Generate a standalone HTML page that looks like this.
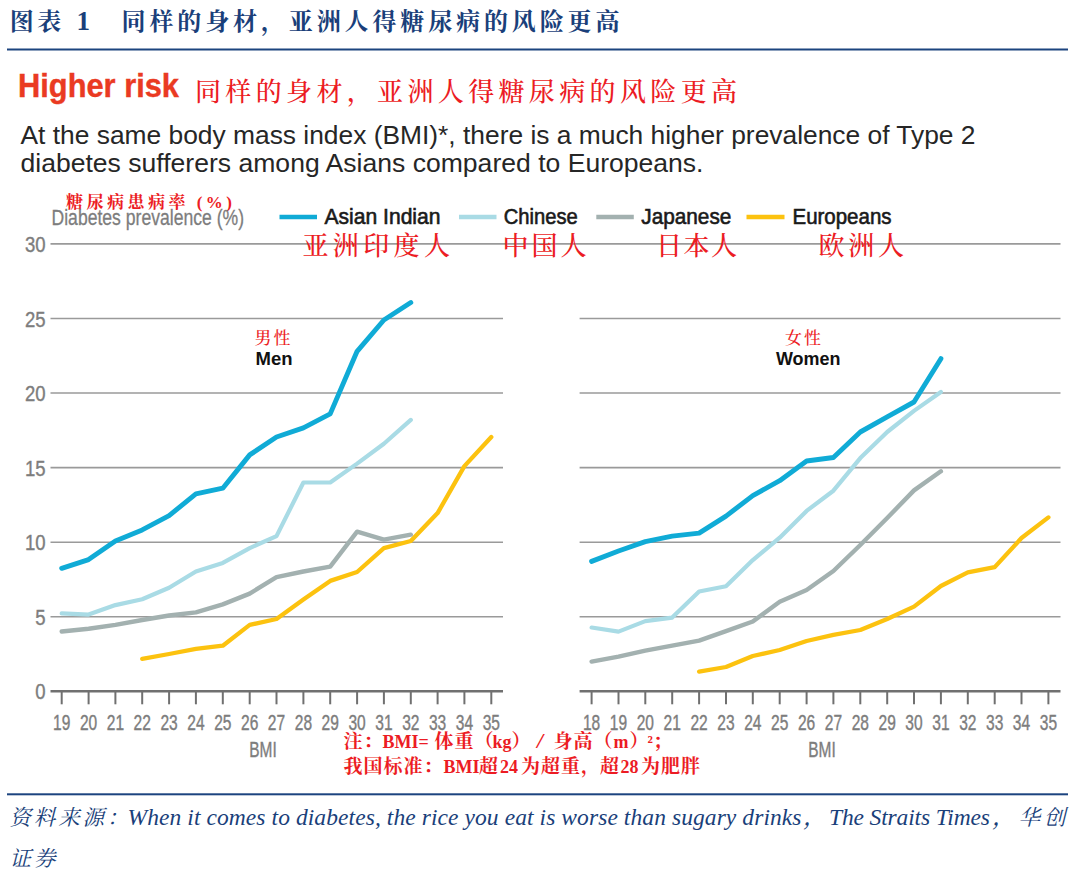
<!DOCTYPE html>
<html lang="zh-CN"><head><meta charset="utf-8"><title>图表 1 同样的身材，亚洲人得糖尿病的风险更高</title>
<style>html,body{margin:0;padding:0;background:#fff}body{width:1080px;height:883px;overflow:hidden}svg{display:block}.kai{font-family:"Liberation Serif","Noto Serif CJK SC",serif}.sans{font-family:"Liberation Sans","Noto Sans CJK SC",sans-serif}</style></head><body>
<svg width="1080" height="883" viewBox="0 0 1080 883">
<rect width="1080" height="883" fill="#fff"/>
<text class="kai" y="29.5" font-size="24" font-weight="700" fill="#1a3f7a"><tspan x="9.8" textLength="51.5" lengthAdjust="spacing">图表</tspan> <tspan x="76.5" font-size="27">1</tspan> <tspan x="121.5" textLength="498" lengthAdjust="spacing">同样的身材，亚洲人得糖尿病的风险更高</tspan></text>
<rect x="7" y="48.5" width="1061" height="2" fill="#1c447f"/>
<text class="sans" x="18" y="97" font-size="32.7" font-weight="700" fill="#ea3a22" stroke="#ea3a22" stroke-width="0.4" textLength="161" lengthAdjust="spacingAndGlyphs">Higher risk</text>
<text class="kai" x="195" y="100.5" font-size="26" font-weight="500" fill="#ec1c24" textLength="542" lengthAdjust="spacing">同样的身材，亚洲人得糖尿病的风险更高</text>
<text class="sans" x="20.5" y="143.5" font-size="26.2" fill="#262626" textLength="955" lengthAdjust="spacingAndGlyphs">At the same body mass index (BMI)*, there is a much higher prevalence of Type 2</text>
<text class="sans" x="20.5" y="172.3" font-size="26.2" fill="#262626" textLength="683" lengthAdjust="spacingAndGlyphs">diabetes sufferers among Asians compared to Europeans.</text>
<g stroke="#9a9a9a" stroke-width="1.6" fill="none">
<line x1="50.5" x2="1060.5" y1="243.9" y2="243.9"/>
<line x1="50.5" x2="503" y1="318.5" y2="318.5"/>
<line x1="579.6" x2="1060.5" y1="318.5" y2="318.5"/>
<line x1="50.5" x2="503" y1="393.0" y2="393.0"/>
<line x1="579.6" x2="1060.5" y1="393.0" y2="393.0"/>
<line x1="50.5" x2="503" y1="467.6" y2="467.6"/>
<line x1="579.6" x2="1060.5" y1="467.6" y2="467.6"/>
<line x1="50.5" x2="503" y1="542.2" y2="542.2"/>
<line x1="579.6" x2="1060.5" y1="542.2" y2="542.2"/>
<line x1="50.5" x2="503" y1="616.7" y2="616.7"/>
<line x1="579.6" x2="1060.5" y1="616.7" y2="616.7"/>
</g>
<g class="sans" font-size="22.5" fill="#7d7d7d" stroke="#7d7d7d" stroke-width="0.4" text-anchor="end">
<text x="45.5" y="251.9" textLength="20.6" lengthAdjust="spacingAndGlyphs">30</text>
<text x="45.5" y="326.5" textLength="20.6" lengthAdjust="spacingAndGlyphs">25</text>
<text x="45.5" y="401.0" textLength="20.6" lengthAdjust="spacingAndGlyphs">20</text>
<text x="45.5" y="475.6" textLength="20.6" lengthAdjust="spacingAndGlyphs">15</text>
<text x="45.5" y="550.2" textLength="20.6" lengthAdjust="spacingAndGlyphs">10</text>
<text x="45.5" y="624.7" textLength="10.3" lengthAdjust="spacingAndGlyphs">5</text>
<text x="45.5" y="699.3" textLength="10.3" lengthAdjust="spacingAndGlyphs">0</text>
</g>
<text class="kai" x="66" y="208" font-size="17" font-weight="700" fill="#ec1c24" textLength="166" lengthAdjust="spacing">糖尿病患病率 (%)</text>
<text class="sans" x="51.5" y="225" font-size="22.5" fill="#7d7d7d" stroke="#7d7d7d" stroke-width="0.3" textLength="192.5" lengthAdjust="spacingAndGlyphs">Diabetes prevalence (%)</text>
<line x1="279.5" x2="317" y1="217" y2="217" stroke="#10abd6" stroke-width="4.6"/>
<text class="sans" x="324.5" y="224.3" font-size="21.6" fill="#1a1a1a" stroke="#1a1a1a" stroke-width="0.6" textLength="116" lengthAdjust="spacingAndGlyphs">Asian Indian</text>
<line x1="459" x2="496.5" y1="217" y2="217" stroke="#a9dbe5" stroke-width="4.6"/>
<text class="sans" x="503.8" y="224.3" font-size="21.6" fill="#1a1a1a" stroke="#1a1a1a" stroke-width="0.6" textLength="74" lengthAdjust="spacingAndGlyphs">Chinese</text>
<line x1="596.3" x2="633.8" y1="217" y2="217" stroke="#a3b1b0" stroke-width="4.6"/>
<text class="sans" x="641.3" y="224.3" font-size="21.6" fill="#1a1a1a" stroke="#1a1a1a" stroke-width="0.6" textLength="90" lengthAdjust="spacingAndGlyphs">Japanese</text>
<line x1="746.5" x2="784.5" y1="217" y2="217" stroke="#fcc20f" stroke-width="4.6"/>
<text class="sans" x="792.5" y="224.3" font-size="21.6" fill="#1a1a1a" stroke="#1a1a1a" stroke-width="0.6" textLength="99" lengthAdjust="spacingAndGlyphs">Europeans</text>
<text class="kai" x="302.5" y="254.5" font-size="26" font-weight="500" fill="#ec1c24" textLength="147.5" lengthAdjust="spacing">亚洲印度人</text>
<text class="kai" x="502.5" y="254.5" font-size="26" font-weight="500" fill="#ec1c24" textLength="84" lengthAdjust="spacing">中国人</text>
<text class="kai" x="656" y="254.5" font-size="26" font-weight="500" fill="#ec1c24" textLength="81" lengthAdjust="spacing">日本人</text>
<text class="kai" x="818.5" y="254.5" font-size="26" font-weight="500" fill="#ec1c24" textLength="85.5" lengthAdjust="spacing">欧洲人</text>
<g fill="none" stroke-linecap="round" stroke-linejoin="round">
<polyline stroke="#fcc20f" stroke-width="4.3" points="142.2,658.9 169.1,654.0 195.9,648.9 222.8,645.7 249.7,624.9 276.5,619.0 303.4,599.6 330.2,580.9 357.1,572.0 383.9,548.1 410.8,541.0 437.6,513.1 464.4,466.1 491.3,437.0"/>
<polyline stroke="#a3b1b0" stroke-width="4.4" points="61.7,631.5 88.6,628.7 115.4,624.9 142.2,620.0 169.1,615.5 195.9,612.4 222.8,604.4 249.7,593.6 276.5,577.1 303.4,571.5 330.2,566.6 357.1,531.7 383.9,539.6 410.8,534.7"/>
<polyline stroke="#a9dbe5" stroke-width="4.2" points="61.7,613.3 88.6,614.6 115.4,605.1 142.2,599.3 169.1,587.8 195.9,571.5 222.8,562.9 249.7,548.1 276.5,536.1 303.4,482.5 330.2,482.5 357.1,463.6 383.9,443.7 410.8,419.9"/>
<polyline stroke="#10abd6" stroke-width="4.9" points="61.7,568.3 88.6,559.6 115.4,541.0 142.2,529.9 169.1,515.6 195.9,493.9 222.8,488.2 249.7,454.9 276.5,437.0 303.4,427.9 330.2,413.9 357.1,351.3 383.9,320.0 410.8,302.5"/>
<polyline stroke="#fcc20f" stroke-width="4.3" points="699.1,671.6 726.0,667.0 752.8,656.0 779.7,650.0 806.6,641.0 833.4,634.9 860.3,630.0 887.2,619.0 914.0,606.6 940.9,586.0 967.8,572.4 994.7,567.1 1021.5,538.0 1048.4,517.4"/>
<polyline stroke="#a3b1b0" stroke-width="4.4" points="591.6,661.6 618.5,656.6 645.3,650.6 672.2,645.7 699.1,640.6 726.0,631.1 752.8,621.5 779.7,601.8 806.6,590.0 833.4,571.0 860.3,545.0 887.2,518.0 914.0,490.4 940.9,471.3"/>
<polyline stroke="#a9dbe5" stroke-width="4.2" points="591.6,627.5 618.5,631.6 645.3,621.1 672.2,617.6 699.1,591.5 726.0,586.3 752.8,560.1 779.7,537.7 806.6,510.9 833.4,490.7 860.3,458.1 887.2,432.0 914.0,410.9 940.9,392.0"/>
<polyline stroke="#10abd6" stroke-width="4.9" points="591.6,561.4 618.5,551.0 645.3,541.6 672.2,536.1 699.1,533.1 726.0,516.1 752.8,495.6 779.7,480.7 806.6,461.0 833.4,457.5 860.3,432.0 887.2,416.9 914.0,402.0 940.9,358.7"/>
</g>
<g stroke="#707070" fill="none">
<line x1="50.5" x2="503" y1="691.3" y2="691.3" stroke-width="2.6"/>
<line x1="579.6" x2="1060.5" y1="691.3" y2="691.3" stroke-width="2.6"/>
<line x1="61.7" x2="61.7" y1="691.3" y2="704.3" stroke-width="2"/>
<line x1="88.6" x2="88.6" y1="691.3" y2="704.3" stroke-width="2"/>
<line x1="115.4" x2="115.4" y1="691.3" y2="704.3" stroke-width="2"/>
<line x1="142.2" x2="142.2" y1="691.3" y2="704.3" stroke-width="2"/>
<line x1="169.1" x2="169.1" y1="691.3" y2="704.3" stroke-width="2"/>
<line x1="195.9" x2="195.9" y1="691.3" y2="704.3" stroke-width="2"/>
<line x1="222.8" x2="222.8" y1="691.3" y2="704.3" stroke-width="2"/>
<line x1="249.7" x2="249.7" y1="691.3" y2="704.3" stroke-width="2"/>
<line x1="276.5" x2="276.5" y1="691.3" y2="704.3" stroke-width="2"/>
<line x1="303.4" x2="303.4" y1="691.3" y2="704.3" stroke-width="2"/>
<line x1="330.2" x2="330.2" y1="691.3" y2="704.3" stroke-width="2"/>
<line x1="357.1" x2="357.1" y1="691.3" y2="704.3" stroke-width="2"/>
<line x1="383.9" x2="383.9" y1="691.3" y2="704.3" stroke-width="2"/>
<line x1="410.8" x2="410.8" y1="691.3" y2="704.3" stroke-width="2"/>
<line x1="437.6" x2="437.6" y1="691.3" y2="704.3" stroke-width="2"/>
<line x1="464.4" x2="464.4" y1="691.3" y2="704.3" stroke-width="2"/>
<line x1="491.3" x2="491.3" y1="691.3" y2="704.3" stroke-width="2"/>
<line x1="591.6" x2="591.6" y1="691.3" y2="704.3" stroke-width="2"/>
<line x1="618.5" x2="618.5" y1="691.3" y2="704.3" stroke-width="2"/>
<line x1="645.3" x2="645.3" y1="691.3" y2="704.3" stroke-width="2"/>
<line x1="672.2" x2="672.2" y1="691.3" y2="704.3" stroke-width="2"/>
<line x1="699.1" x2="699.1" y1="691.3" y2="704.3" stroke-width="2"/>
<line x1="726.0" x2="726.0" y1="691.3" y2="704.3" stroke-width="2"/>
<line x1="752.8" x2="752.8" y1="691.3" y2="704.3" stroke-width="2"/>
<line x1="779.7" x2="779.7" y1="691.3" y2="704.3" stroke-width="2"/>
<line x1="806.6" x2="806.6" y1="691.3" y2="704.3" stroke-width="2"/>
<line x1="833.4" x2="833.4" y1="691.3" y2="704.3" stroke-width="2"/>
<line x1="860.3" x2="860.3" y1="691.3" y2="704.3" stroke-width="2"/>
<line x1="887.2" x2="887.2" y1="691.3" y2="704.3" stroke-width="2"/>
<line x1="914.0" x2="914.0" y1="691.3" y2="704.3" stroke-width="2"/>
<line x1="940.9" x2="940.9" y1="691.3" y2="704.3" stroke-width="2"/>
<line x1="967.8" x2="967.8" y1="691.3" y2="704.3" stroke-width="2"/>
<line x1="994.7" x2="994.7" y1="691.3" y2="704.3" stroke-width="2"/>
<line x1="1021.5" x2="1021.5" y1="691.3" y2="704.3" stroke-width="2"/>
<line x1="1048.4" x2="1048.4" y1="691.3" y2="704.3" stroke-width="2"/>
</g>
<g class="sans" font-size="21.3" fill="#7d7d7d" stroke="#7d7d7d" stroke-width="0.4" text-anchor="middle">
<text x="61.7" y="729.8" textLength="17.3" lengthAdjust="spacingAndGlyphs">19</text>
<text x="88.6" y="729.8" textLength="17.3" lengthAdjust="spacingAndGlyphs">20</text>
<text x="115.4" y="729.8" textLength="17.3" lengthAdjust="spacingAndGlyphs">21</text>
<text x="142.2" y="729.8" textLength="17.3" lengthAdjust="spacingAndGlyphs">22</text>
<text x="169.1" y="729.8" textLength="17.3" lengthAdjust="spacingAndGlyphs">23</text>
<text x="195.9" y="729.8" textLength="17.3" lengthAdjust="spacingAndGlyphs">24</text>
<text x="222.8" y="729.8" textLength="17.3" lengthAdjust="spacingAndGlyphs">25</text>
<text x="249.7" y="729.8" textLength="17.3" lengthAdjust="spacingAndGlyphs">26</text>
<text x="276.5" y="729.8" textLength="17.3" lengthAdjust="spacingAndGlyphs">27</text>
<text x="303.4" y="729.8" textLength="17.3" lengthAdjust="spacingAndGlyphs">28</text>
<text x="330.2" y="729.8" textLength="17.3" lengthAdjust="spacingAndGlyphs">29</text>
<text x="357.1" y="729.8" textLength="17.3" lengthAdjust="spacingAndGlyphs">30</text>
<text x="383.9" y="729.8" textLength="17.3" lengthAdjust="spacingAndGlyphs">31</text>
<text x="410.8" y="729.8" textLength="17.3" lengthAdjust="spacingAndGlyphs">32</text>
<text x="437.6" y="729.8" textLength="17.3" lengthAdjust="spacingAndGlyphs">33</text>
<text x="464.4" y="729.8" textLength="17.3" lengthAdjust="spacingAndGlyphs">34</text>
<text x="491.3" y="729.8" textLength="17.3" lengthAdjust="spacingAndGlyphs">35</text>
<text x="591.6" y="729.8" textLength="17.3" lengthAdjust="spacingAndGlyphs">18</text>
<text x="618.5" y="729.8" textLength="17.3" lengthAdjust="spacingAndGlyphs">19</text>
<text x="645.3" y="729.8" textLength="17.3" lengthAdjust="spacingAndGlyphs">20</text>
<text x="672.2" y="729.8" textLength="17.3" lengthAdjust="spacingAndGlyphs">21</text>
<text x="699.1" y="729.8" textLength="17.3" lengthAdjust="spacingAndGlyphs">22</text>
<text x="726.0" y="729.8" textLength="17.3" lengthAdjust="spacingAndGlyphs">23</text>
<text x="752.8" y="729.8" textLength="17.3" lengthAdjust="spacingAndGlyphs">24</text>
<text x="779.7" y="729.8" textLength="17.3" lengthAdjust="spacingAndGlyphs">25</text>
<text x="806.6" y="729.8" textLength="17.3" lengthAdjust="spacingAndGlyphs">26</text>
<text x="833.4" y="729.8" textLength="17.3" lengthAdjust="spacingAndGlyphs">27</text>
<text x="860.3" y="729.8" textLength="17.3" lengthAdjust="spacingAndGlyphs">28</text>
<text x="887.2" y="729.8" textLength="17.3" lengthAdjust="spacingAndGlyphs">29</text>
<text x="914.0" y="729.8" textLength="17.3" lengthAdjust="spacingAndGlyphs">30</text>
<text x="940.9" y="729.8" textLength="17.3" lengthAdjust="spacingAndGlyphs">31</text>
<text x="967.8" y="729.8" textLength="17.3" lengthAdjust="spacingAndGlyphs">32</text>
<text x="994.7" y="729.8" textLength="17.3" lengthAdjust="spacingAndGlyphs">33</text>
<text x="1021.5" y="729.8" textLength="17.3" lengthAdjust="spacingAndGlyphs">34</text>
<text x="1048.4" y="729.8" textLength="17.3" lengthAdjust="spacingAndGlyphs">35</text>
<text x="263" y="757.3" textLength="27.5" lengthAdjust="spacingAndGlyphs">BMI</text>
<text x="822" y="757.3" textLength="27.5" lengthAdjust="spacingAndGlyphs">BMI</text>
</g>
<text class="kai" x="254.5" y="344" font-size="17" font-weight="500" fill="#ec1c24" textLength="36" lengthAdjust="spacing">男性</text>
<text class="sans" x="255.5" y="365" font-size="18.5" font-weight="700" fill="#111" textLength="37" lengthAdjust="spacingAndGlyphs">Men</text>
<text class="kai" x="785" y="344" font-size="17" font-weight="500" fill="#ec1c24" textLength="36" lengthAdjust="spacing">女性</text>
<text class="sans" x="776" y="365" font-size="18.5" font-weight="700" fill="#111" textLength="64.5" lengthAdjust="spacingAndGlyphs">Women</text>
<g class="kai" font-size="19" font-weight="700" fill="#ec1c24">
<text y="748" letter-spacing="1"><tspan x="343.5">注：</tspan><tspan x="382.5" letter-spacing="0" font-size="18">BMI=</tspan><tspan x="434.5">体重（</tspan><tspan x="492.5" letter-spacing="0" font-size="18">kg</tspan><tspan x="511.5">）</tspan><tspan x="537" letter-spacing="0" font-size="22" font-style="italic">/</tspan><tspan x="553.5">身高（</tspan><tspan x="613.5" letter-spacing="0" font-size="18">m</tspan><tspan x="629.5">）</tspan><tspan x="647.5" letter-spacing="0" font-size="18">²</tspan><tspan x="653">；</tspan></text>
<text y="772.5" letter-spacing="1"><tspan x="343.5">我国标准：</tspan><tspan x="443.5" letter-spacing="0" font-size="18">BMI</tspan><tspan x="479">超</tspan><tspan x="500" letter-spacing="0" font-size="18">24</tspan><tspan x="521">为超重，</tspan><tspan x="600">超</tspan><tspan x="620.5" letter-spacing="0" font-size="18">28</tspan><tspan x="641">为肥胖</tspan></text>
</g>
<rect x="7" y="793.3" width="1061" height="2" fill="#1c447f"/>
<text class="kai" y="824.5" font-size="23.5" font-style="italic" fill="#1a3f7a"><tspan x="9.5" font-size="21.5" textLength="119" lengthAdjust="spacing">资料来源：</tspan><tspan x="127.5" textLength="674" lengthAdjust="spacing">When it comes to diabetes, the rice you eat is worse than sugary drinks</tspan><tspan x="803">，</tspan><tspan x="829" textLength="161" lengthAdjust="spacing">The Straits Times</tspan><tspan x="992">，</tspan><tspan x="1018.5" font-size="21.5" textLength="47" lengthAdjust="spacing">华创</tspan></text>
<text class="kai" x="9.5" y="866" font-size="21.5" font-style="italic" fill="#1a3f7a" textLength="46" lengthAdjust="spacing">证券</text>
</svg></body></html>
